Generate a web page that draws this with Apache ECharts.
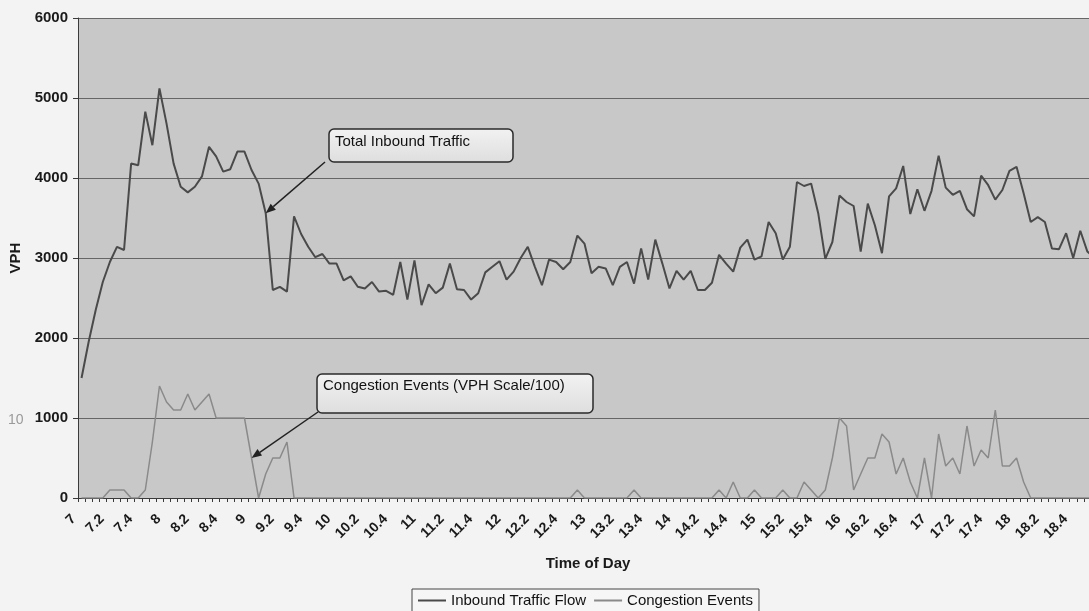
<!DOCTYPE html>
<html>
<head>
<meta charset="utf-8">
<script src="https://cdn.jsdelivr.net/npm/echarts@6/dist/echarts.min.js"></script>
<style>
    html, body { margin: 0; padding: 0; overflow: hidden; background: #f3f3f3; }
    #main { width: 1099px; height: 611px; }
</style>
</head>
<body>
<div id="main"></div>
<script>
// time of day, every 5 minutes (hh.mm)
let times = [
    '7', '7.05', '7.1', '7.15', '7.2', '7.25', '7.3', '7.35', '7.4', '7.45', '7.5', '7.55',
    '8', '8.05', '8.1', '8.15', '8.2', '8.25', '8.3', '8.35', '8.4', '8.45', '8.5', '8.55',
    '9', '9.05', '9.1', '9.15', '9.2', '9.25', '9.3', '9.35', '9.4', '9.45', '9.5', '9.55',
    '10', '10.05', '10.1', '10.15', '10.2', '10.25', '10.3', '10.35', '10.4', '10.45', '10.5', '10.55',
    '11', '11.05', '11.1', '11.15', '11.2', '11.25', '11.3', '11.35', '11.4', '11.45', '11.5', '11.55',
    '12', '12.05', '12.1', '12.15', '12.2', '12.25', '12.3', '12.35', '12.4', '12.45', '12.5', '12.55',
    '13', '13.05', '13.1', '13.15', '13.2', '13.25', '13.3', '13.35', '13.4', '13.45', '13.5', '13.55',
    '14', '14.05', '14.1', '14.15', '14.2', '14.25', '14.3', '14.35', '14.4', '14.45', '14.5', '14.55',
    '15', '15.05', '15.1', '15.15', '15.2', '15.25', '15.3', '15.35', '15.4', '15.45', '15.5', '15.55',
    '16', '16.05', '16.1', '16.15', '16.2', '16.25', '16.3', '16.35', '16.4', '16.45', '16.5', '16.55',
    '17', '17.05', '17.1', '17.15', '17.2', '17.25', '17.3', '17.35', '17.4', '17.45', '17.5', '17.55',
    '18', '18.05', '18.1', '18.15', '18.2', '18.25', '18.3', '18.35', '18.4', '18.45', '18.5', '18.55'
];

let inboundFlow = [
    1500, 1950, 2350, 2700, 2950, 3140, 3100, 4180, 4160, 4830, 4410, 5120,
    4680, 4180, 3890, 3820, 3890, 4020, 4390, 4270, 4080, 4110, 4330, 4330,
    4100, 3930, 3560, 2600, 2640, 2580, 3520, 3300, 3140, 3010, 3050, 2930,
    2930, 2720, 2770, 2640, 2620, 2700, 2580, 2590, 2540, 2950, 2480, 2970,
    2410, 2670, 2560, 2630, 2930, 2610, 2600, 2480, 2560, 2820, 2890, 2960,
    2730, 2830, 3000, 3140, 2890, 2660, 2980, 2950, 2860, 2950, 3280, 3180,
    2810, 2890, 2870, 2660, 2890, 2950, 2680, 3120, 2730, 3230, 2930, 2620,
    2840, 2730, 2840, 2600, 2600, 2690, 3040, 2930, 2830, 3130, 3230, 2980,
    3020, 3450, 3310, 2980, 3140, 3950, 3900, 3930, 3560, 2990, 3200, 3780,
    3700, 3650, 3080, 3680, 3410, 3060, 3770, 3870, 4150, 3550, 3860, 3590,
    3840, 4280, 3880, 3790, 3840, 3610, 3520, 4030, 3910, 3730, 3850, 4090,
    4140, 3810, 3450, 3510, 3450, 3120, 3110, 3310, 3000, 3340, 3080, 3000
];

// congestion events, already x100 to sit on the VPH scale
let congestionEvents = [
    0, 0, 0, 0, 100, 100, 100, 0, 0, 100, 700, 1400,
    1200, 1100, 1100, 1300, 1100, 1200, 1300, 1000, 1000, 1000, 1000, 1000,
    500, 0, 300, 500, 500, 700, 0, 0, 0, 0, 0, 0,
    0, 0, 0, 0, 0, 0, 0, 0, 0, 0, 0, 0,
    0, 0, 0, 0, 0, 0, 0, 0, 0, 0, 0, 0,
    0, 0, 0, 0, 0, 0, 0, 0, 0, 0, 100, 0,
    0, 0, 0, 0, 0, 0, 100, 0, 0, 0, 0, 0,
    0, 0, 0, 0, 0, 0, 100, 0, 200, 0, 0, 100,
    0, 0, 0, 100, 0, 0, 200, 100, 0, 100, 500, 1000,
    900, 100, 300, 500, 500, 800, 700, 300, 500, 200, 0, 500,
    0, 800, 400, 500, 300, 900, 400, 600, 500, 1100, 400, 400,
    500, 200, 0, 0, 0, 0, 0, 0, 0, 0, 0, 0
];

let seriesNames = ['Inbound Traffic Flow', 'Congestion Events'];

let font = '"Liberation Sans", Arial, sans-serif';
let textDark = '#1a1a1a';

let chart = echarts.init(document.getElementById('main'));

let option = {
    animation: false,
    backgroundColor: '#f3f3f3',
    grid: {
        left: 78, right: 1, top: 18, bottom: 113,
        show: true, backgroundColor: '#c8c8c8', borderWidth: 0
    },
    legend: {
        data: seriesNames,
        left: 412, top: 589,
        icon: 'rect', itemWidth: 28, itemHeight: 2, itemGap: 8,
        padding: [4, 6, 4, 6],
        borderColor: '#444', borderWidth: 1, backgroundColor: '#f6f6f6',
        textStyle: { fontFamily: font, fontSize: 15, color: '#111' }
    },
    xAxis: {
        type: 'category',
        data: times,
        boundaryGap: true,
        name: 'Time of Day',
        nameLocation: 'middle',
        nameGap: 58,
        nameTextStyle: { fontFamily: font, fontSize: 15, fontWeight: 'bold', color: textDark },
        axisLine: { lineStyle: { color: '#3a3a3a', width: 1 } },
        axisTick: { show: true, interval: 0, length: 4, lineStyle: { color: '#3a3a3a' } },
        axisLabel: {
            interval: 3, rotate: 45, margin: 11,
            padding: [0, 11, 0, 0],
            fontFamily: font, fontSize: 14, fontWeight: 'bold', color: textDark
        }
    },
    yAxis: {
        type: 'value',
        min: 0, max: 6000, interval: 1000,
        name: 'VPH',
        nameLocation: 'middle',
        nameGap: 53,
        nameRotate: 90,
        nameTextStyle: { fontFamily: font, fontSize: 15, fontWeight: 'bold', color: textDark },
        axisLine: { show: true, lineStyle: { color: '#3a3a3a' } },
        axisTick: { show: true, length: 5, lineStyle: { color: '#3a3a3a' } },
        axisLabel: {
            margin: 10, fontFamily: font, fontSize: 15, fontWeight: 'bold', color: textDark,
            formatter: function (v) { return String(v); }
        },
        splitLine: { show: true, lineStyle: { color: '#666', width: 1 } }
    },
    series: [
        {
            name: seriesNames[0],
            type: 'line',
            data: inboundFlow,
            symbol: 'none',
            z: 3,
            lineStyle: { color: '#4a4a4a', width: 2 },
            itemStyle: { color: '#4a4a4a' }
        },
        {
            name: seriesNames[1],
            type: 'line',
            data: congestionEvents,
            symbol: 'none',
            z: 2,
            lineStyle: { color: '#8a8a8a', width: 1.5 },
            itemStyle: { color: '#8a8a8a' }
        }
    ]
};

chart.setOption(option);

// callout boxes with arrows pointing at a point of a series
let callouts = [
    { text: 'Total Inbound Traffic', box: [329, 129, 184, 33], textY: 13, from: [325, 162], seriesIndex: 0, dataIndex: 26 },
    { text: 'Congestion Events (VPH Scale/100)', box: [317, 374, 276, 39], textY: 12, from: [318, 412], seriesIndex: 1, dataIndex: 24 }
];

function arrowParts(from, tip) {
    let dx = tip[0] - from[0], dy = tip[1] - from[1];
    let len = Math.sqrt(dx * dx + dy * dy);
    let ux = dx / len, uy = dy / len;
    let headLen = 10, headW = 4;
    let base = [tip[0] - ux * headLen, tip[1] - uy * headLen];
    return [
        {
            type: 'line', z: 100,
            shape: { x1: from[0], y1: from[1], x2: base[0], y2: base[1] },
            style: { stroke: '#222', lineWidth: 1.5 }
        },
        {
            type: 'polygon', z: 100,
            shape: { points: [tip, [base[0] - uy * headW, base[1] + ux * headW], [base[0] + uy * headW, base[1] - ux * headW]] },
            style: { fill: '#222' }
        }
    ];
}

let graphic = [];
callouts.forEach(function (c) {
    let data = c.seriesIndex === 0 ? inboundFlow : congestionEvents;
    let tip = chart.convertToPixel({ seriesIndex: c.seriesIndex }, [c.dataIndex, data[c.dataIndex]]);
    graphic.push({
        type: 'rect', z: 100,
        shape: { x: c.box[0], y: c.box[1], width: c.box[2], height: c.box[3], r: 5 },
        style: {
            fill: new echarts.graphic.LinearGradient(0, 0, 0, 1, [
                { offset: 0, color: '#f2f2f2' }, { offset: 1, color: '#dedede' }
            ]),
            stroke: '#2a2a2a', lineWidth: 1.5
        }
    });
    graphic.push({
        type: 'text', z: 101,
        x: c.box[0] + 6, y: c.box[1] + c.textY,
        style: { text: c.text, fontFamily: font, fontSize: 15, fill: '#111', verticalAlign: 'middle' }
    });
    graphic = graphic.concat(arrowParts(c.from, tip));
});

// stray page number showing through the scan
graphic.push({
    type: 'text', x: 8, y: 420,
    style: { text: '10', fontFamily: font, fontSize: 14, fill: '#9a9a9a', verticalAlign: 'middle' }
});

chart.setOption({ graphic: graphic });
</script>
</body>
</html>
